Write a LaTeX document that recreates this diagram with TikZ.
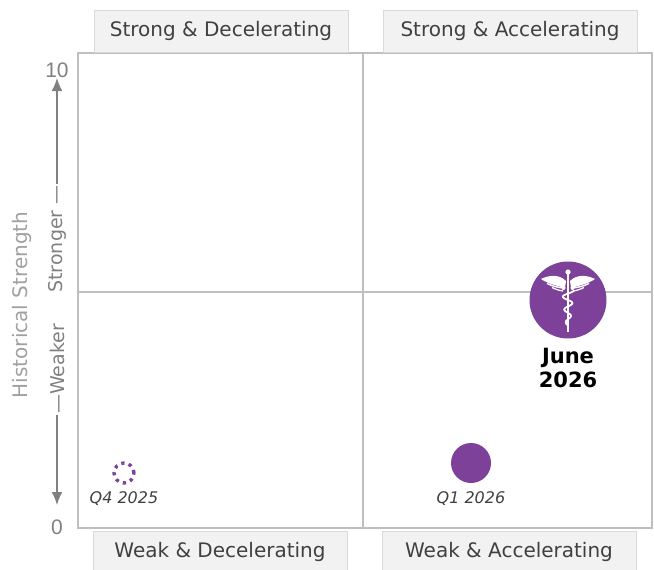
\documentclass[tikz,border=0pt]{standalone}
\usepackage{fontspec}
\setmainfont{DejaVu Sans}
\newfontfamily\numfont{Liberation Sans}
\usetikzlibrary{positioning,arrows.meta}
\definecolor{plum}{RGB}{125,65,153}
\definecolor{gridgray}{RGB}{191,191,191}
\definecolor{tabfill}{RGB}{242,242,242}
\definecolor{tabline}{RGB}{217,217,217}
\definecolor{axisgray}{RGB}{128,128,128}
\definecolor{textgray}{RGB}{64,64,64}
\begin{document}
\begin{tikzpicture}[x=1pt,y=-1pt,
			tab node/.style={rectangle,draw=tabline,fill=tabfill,minimum width=254pt,minimum height=42pt,font=\fontsize{20}{24}\selectfont,text=textgray},
			dot node/.style={circle,fill=plum,inner sep=0pt},
			date node/.style={font=\fontsize{16}{19}\selectfont\itshape,text=textgray,inner sep=0pt},
			axis node/.style={rotate=90,font=\fontsize{19}{23}\selectfont,text=axisgray,inner sep=1pt}]
			
			\useasboundingbox (0,0) rectangle (654,570);
			
			% quadrants
			\draw[gridgray,line width=1.8pt] (78,53) rectangle (652,528);
			\draw[gridgray,line width=1.8pt] (363,53) -- (363,528) (78,292) -- (652,292);
			
			\node[tab node] (SD) at (221,31) {Strong \& Decelerating};
			\node[tab node] (SA) at (510,31) {Strong \& Accelerating};
			\node[tab node] (WD) at (220,552) {Weak \& Decelerating};
			\node[tab node] (WA) at (509,552) {Weak \& Accelerating};
			
			% axis
			\node[font=\numfont\fontsize{21}{25}\selectfont,text=axisgray] (Top) at (57,70) {10};
			\node[font=\numfont\fontsize{21}{25}\selectfont,text=axisgray] (Bottom) at (57,527) {0};
			\node[axis node] (Stronger) at (57,239) {Stronger —};
			\node[axis node] (Weaker) at (57,369) {—Weaker};
			\node[axis node,font=\fontsize{20}{24}\selectfont,text=axisgray!75] (Title) at (22,305) {Historical Strength};
			\coordinate (TopTip) at (57,78);
			\coordinate (BottomTip) at (57,505);
			
			\path[axisgray,line width=1.8pt]
			(Stronger.east) edge [-{Latex[length=13pt,width=11pt]}] (TopTip)
			(Weaker.west) edge [-{Latex[length=13pt,width=11pt]}] (BottomTip);
			
			% points
			\node[circle,draw=plum,line width=3.4pt,dash pattern=on 3.2pt off 4.4pt,minimum size=20pt,inner sep=0pt] (Q4) at (124,473) {};
			\node[dot node,minimum size=40pt] (Q1) at (471,463) {};
			\node[dot node,minimum size=77pt] (June) at (568,300) {};
			
			\node[date node] (Q4label) [below=7pt of Q4] {Q4 2025};
			\node[date node] (Q1label) [below=8pt of Q1] {Q1 2026};
			\node[font=\fontsize{21}{24}\selectfont\bfseries,align=center,inner sep=0pt] (Junelabel) [below=9pt of June] {June\\2026};
			
			% caduceus
			\begin{scope}[shift={(June.center)},white]
				\fill (0,-28) circle (2.6);
				\draw[line width=2.2pt] (0,-26) -- (0,24);
				\draw[line width=1.1pt] (0,24) -- (0,32);
				\foreach \s in {1,-1} {
					\begin{scope}[xscale=\s]
						\fill (-2,-19) .. controls (-9,-26) and (-19,-25) .. (-27,-21)
						.. controls (-20,-16) and (-10,-14) .. (-3,-12) -- cycle;
						\draw[line width=1.4pt] (-5,-12) .. controls (-10,-12.5) and (-16,-14) .. (-21,-16.5);
						\draw[line width=1.3pt] (-5,-9) .. controls (-9,-9.5) and (-13,-11) .. (-16,-12.5);
						\draw[line width=1.5pt] plot[domain=-10:26,samples=60] ({\s*6*(1-(\x+10)/52)*sin(\x*28)},\x);
						\fill (-4.5,-12) circle (2);
					\end{scope}
				}
			\end{scope}
			\end{tikzpicture}
\end{document}
